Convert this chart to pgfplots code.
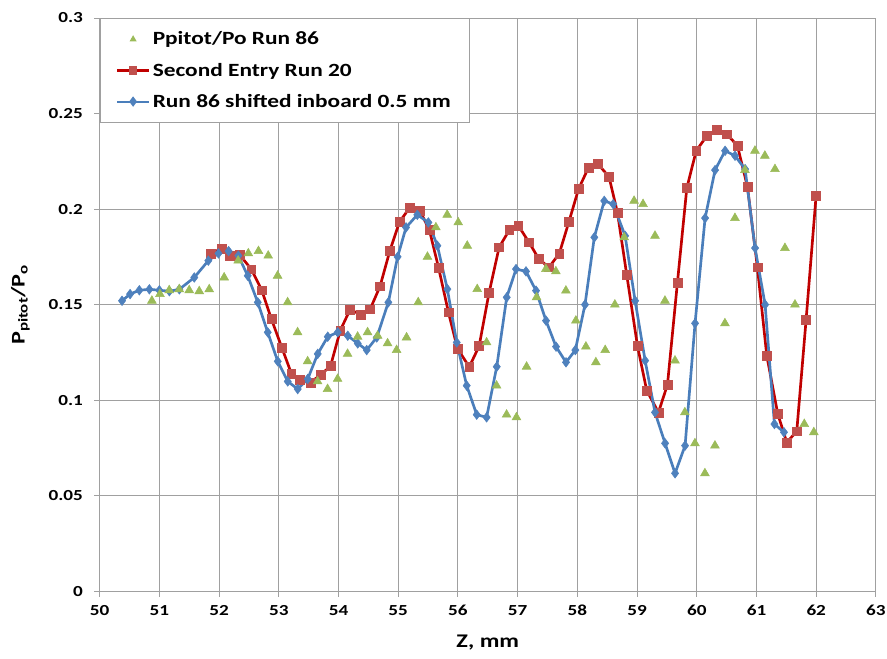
\documentclass[border=0pt]{standalone}
\usepackage{fontspec}
\setmainfont{Carlito}[FakeStretch=1.25]
\usepackage{pgfplots}
\pgfplotsset{compat=1.18}
\usepackage{pgfplotstable}

\definecolor{pitotgreen}{HTML}{9BBB59}
\definecolor{entryred}{HTML}{C0504D}
\definecolor{entryline}{HTML}{C00000}
\definecolor{shiftblue}{HTML}{4F81BD}
\definecolor{shiftline}{HTML}{4A7EBB}
\definecolor{gridgray}{HTML}{A0A0A0}

% Longer legend samples: a line with its marker in the middle, or a lone marker
\pgfplotsset{
  long line legend/.style={legend image code/.code={%
    \draw[mark repeat=2, mark phase=2, ##1] plot coordinates {(0cm,0cm) (0.42cm,0cm) (0.84cm,0cm)};}},
  lone mark legend/.style={legend image code/.code={%
    \draw[##1] plot coordinates {(0.42cm,0cm)};}},
}

% Pitot pressure ratio, Run 86 (z in mm)
\pgfplotstableread{
z y
50.875 0.1520
51.010 0.1555
51.165 0.1575
51.333 0.1580
51.500 0.1575
51.668 0.1570
51.835 0.1580
52.085 0.1642
52.320 0.1730
52.490 0.1768
52.660 0.1780
52.823 0.1756
52.980 0.1651
53.148 0.1512
53.315 0.1355
53.483 0.1203
53.650 0.1098
53.817 0.1058
53.985 0.1111
54.152 0.1242
54.320 0.1332
54.487 0.1355
54.655 0.1337
54.822 0.1297
54.973 0.1262
55.140 0.1328
55.335 0.1512
55.490 0.1750
55.631 0.1904
55.820 0.1970
56.005 0.1930
56.156 0.1808
56.323 0.1581
56.480 0.1302
56.647 0.1076
56.815 0.0924
56.980 0.0910
57.150 0.1175
57.317 0.1538
57.473 0.1686
57.640 0.1674
57.808 0.1573
57.975 0.1416
58.143 0.1280
58.310 0.1198
58.466 0.1262
58.628 0.1500
58.784 0.1852
58.950 0.2043
59.100 0.2026
59.300 0.1860
59.467 0.1520
59.635 0.1207
59.800 0.0936
59.969 0.0774
60.136 0.0617
60.304 0.0762
60.471 0.1402
60.639 0.1953
60.806 0.2204
60.974 0.2305
61.140 0.2279
61.309 0.2209
61.476 0.1796
61.644 0.1500
61.800 0.0875
61.960 0.0832
}\runeightysix

% Second entry, Run 20
\pgfplotstableread{
z y
51.860 0.1767
52.040 0.1793
52.185 0.1757
52.350 0.1759
52.540 0.1685
52.715 0.1575
52.876 0.1425
53.050 0.1276
53.210 0.1140
53.356 0.1108
53.530 0.1093
53.700 0.1132
53.866 0.1178
54.030 0.1365
54.194 0.1474
54.370 0.1448
54.530 0.1476
54.696 0.1596
54.860 0.1782
55.020 0.1932
55.193 0.2008
55.366 0.1990
55.522 0.1890
55.676 0.1693
55.841 0.1460
55.992 0.1270
56.190 0.1174
56.355 0.1283
56.520 0.1560
56.690 0.1800
56.860 0.1890
57.012 0.1913
57.190 0.1826
57.357 0.1738
57.525 0.1695
57.698 0.1768
57.860 0.1935
58.020 0.2105
58.188 0.2218
58.347 0.2235
58.530 0.2169
58.671 0.1982
58.827 0.1656
59.006 0.1285
59.162 0.1050
59.358 0.0936
59.509 0.1081
59.676 0.1616
59.833 0.2110
59.990 0.2305
60.168 0.2383
60.336 0.2413
60.503 0.2392
60.680 0.2332
60.848 0.2117
61.015 0.1695
61.172 0.1233
61.356 0.0928
61.507 0.0779
61.674 0.0837
61.830 0.1419
61.998 0.2070
}\secondentry

\begin{document}
\begin{tikzpicture}
\begin{axis}[
  name=ax,
  width=582pt, height=429.75pt, scale only axis,
  xmin=50, xmax=63, ymin=0, ymax=0.3,
  xtick={50,51,...,63},
  ytick={0,0.05,0.1,0.15,0.2,0.25,0.3},
  /pgf/number format/assume math mode=true,
  yticklabel style={/pgf/number format/fixed, /pgf/number format/precision=2, xshift=-5pt},
  tick label style={font=\bfseries\fontsize{11.5}{13}\selectfont},
  xticklabel style={yshift=-3pt},
  grid=major,
  grid style={gridgray, line width=0.7pt},
  axis line style={gridgray, line width=0.7pt},
  tick style={gridgray, line width=0.7pt},
  tick align=outside,
  major tick length=4pt,
  xtick pos=bottom, ytick pos=left,
  xlabel={Z, mm},
  ylabel={P\textsubscript{pitot}/P\textsubscript{o}},
  label style={font=\bfseries\fontsize{14.5}{16}\selectfont},
  xlabel style={at={(axis description cs:0.5,-0.09)}, anchor=center},
  ylabel style={at={(axis description cs:-0.102,0.5)}, anchor=center},
  legend style={at={(0,1)}, anchor=north west, draw=gridgray, fill=white,
    line width=0.7pt, font=\bfseries\fontsize{14}{16}\selectfont,
    row sep=8pt, inner xsep=12pt, inner ysep=8pt},
  legend cell align=left,
]
\addlegendimage{lone mark legend, only marks, mark=triangle*, mark size=2.4pt, pitotgreen}
\addlegendentry{Ppitot/Po Run 86}
\addlegendimage{long line legend, entryline, line width=1.6pt, mark=square*, mark size=2.4pt,
  mark options={fill=entryred, draw=entryred}}
\addlegendentry{Second Entry Run 20}
\addlegendimage{long line legend, shiftline, line width=1.6pt, mark=diamond*, mark size=2.6pt,
  mark options={fill=shiftblue, draw=shiftblue}}
\addlegendentry{Run 86 shifted inboard 0.5 mm}

\addplot[forget plot, entryline, line width=2pt, mark=square*, mark size=3.3pt,
  mark options={fill=entryred, draw=entryred, line width=0.4pt}]
  table[x=z, y=y] {\secondentry};
\addplot[forget plot, shiftline, line width=2pt, mark=diamond*, mark size=3.6pt,
  mark options={fill=shiftblue, draw=shiftblue, line width=0.4pt}]
  table[x expr=\thisrow{z}-0.5, y=y] {\runeightysix};
\addplot[forget plot, only marks, mark=triangle*, mark size=3.8pt,
  mark options={fill=pitotgreen, draw=pitotgreen}]
  table[x=z, y=y] {\runeightysix};
\end{axis}
\pgfresetboundingbox
\path ([shift={(-74.7pt,-50.5pt)}]ax.south west) rectangle ([shift={(8.3pt,13.5pt)}]ax.north east);
\end{tikzpicture}
\end{document}
